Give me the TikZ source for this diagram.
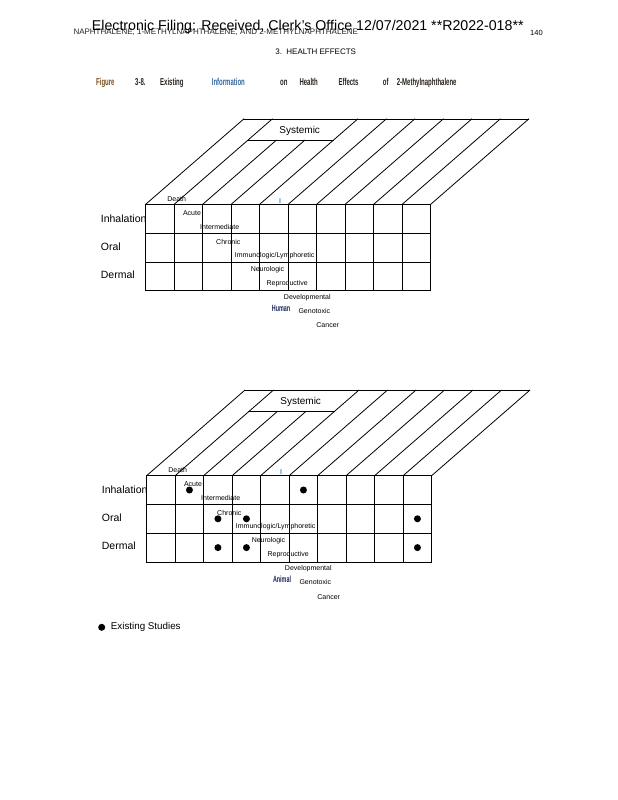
\documentclass[tikz,border=0pt]{standalone}
\usepackage{graphicx}
\usepackage{fontspec}
\setmainfont{Liberation Sans}
\definecolor{capbrown}{RGB}{120,80,30}
\definecolor{capblue}{RGB}{50,105,160}
\definecolor{capdark}{RGB}{40,35,30}
\definecolor{navy}{RGB}{30,40,90}
\definecolor{markblue}{RGB}{70,140,210}
\newcommand\drawpanel[3]{%
  \begin{scope}[shift={(#2)}]
    \foreach \k in {0,...,10} {
      \coordinate (#1f\k) at ({145.7+28.5*\k},204.3);
      \coordinate (#1d\k) at ({145.7+28.5*\k},290.7);
      \coordinate (#1b\k) at ({243.7+28.5*\k},119);
      \coordinate (#1m\k) at ({219.2+28.5*\k},140.3);
    }
    \foreach \j in {1,2} {
      \coordinate (#1l\j) at (145.7,{204.3+28.8*\j});
      \coordinate (#1r\j) at (430.7,{204.3+28.8*\j});
    }
    \draw[gridline] (#1f0) rectangle (#1d10);
    \foreach \k in {1,...,9} \draw[gridline] (#1f\k) -- (#1d\k);
    \foreach \j in {1,2} \draw[gridline] (#1l\j) -- (#1r\j);
    \foreach \k in {0,1,4,5,6,7,8,9,10} \draw[gridline] (#1f\k) -- (#1b\k);
    \foreach \k in {2,3} \draw[gridline] (#1f\k) -- (#1m\k);
    \draw[gridline] (#1b0) -- (#1b10);
    \draw[gridline] (#1m1) -- (#1m4);
    \node[font=\fontsize{10}{12}\selectfont, inner sep=0pt] (#1sys) at (299.7,130.5) {Systemic};
    \node[rowlab] (#1inh) at (100.7,218.3) {Inhalation};
    \node[rowlab] (#1ora) at (100.7,246.7) {Oral};
    \node[rowlab] (#1der) at (100.7,274.3) {Dermal};
    \node[lab] (#1death) at (176.7,199) {Death};
    \node[lab] (#1acute) at (192,212.7) {Acute};
    \node[lab] (#1inter) at (219.7,226.7) {Intermediate};
    \node[lab] (#1chron) at (228.3,241.7) {Chronic};
    \node[lab] (#1immu) at (274.7,255.7) {Immunologic/Lymphoretic};
    \node[lab] (#1neuro) at (267.5,269.7) {Neurologic};
    \node[lab] (#1repro) at (287.2,283.7) {Reproductive};
    \node[lab] (#1devel) at (307.3,297.3) {Developmental};
    \node[lab] (#1geno) at (314.3,310.7) {Genotoxic};
    \node[lab] (#1canc) at (327.7,325.3) {Cancer};
    \node[font=\fontsize{7}{8}\selectfont\bfseries, text=markblue, inner sep=0pt] (#1mark) at (280,200.7) {I};
    \node[font=\fontsize{9}{10}\selectfont\bfseries, text=navy, inner sep=0pt] (#1who) at (281,308.3) {\scalebox{0.6}[1]{#3}};
  \end{scope}}
\begin{document}
\begin{tikzpicture}[x=1pt,y=-1pt,
  gridline/.style={line width=0.8pt, line cap=rect},
  lab/.style={font=\fontsize{7}{8}\selectfont, inner sep=0pt},
  rowlab/.style={font=\fontsize{10.5}{12}\selectfont, anchor=west, inner sep=0pt},
  capword/.style={font=\fontsize{10}{12}\selectfont\bfseries, anchor=base west, inner sep=0pt},
  dot/.style={circle, fill=black, inner sep=0pt, minimum size=7pt}]
\useasboundingbox[fill=white] (0,0) rectangle (618,800);
% header
\node[font=\fontsize{8}{9}\selectfont, text=black!85, anchor=west, inner sep=0pt] (hdrsmall) at (73.3,32.7) {NAPHTHALENE, 1-METHYLNAPHTHALENE, AND 2-METHYLNAPHTHALENE};
\node[font=\fontsize{14.2}{16}\selectfont, anchor=west, inner sep=0pt] (hdrbig) at (91.7,27.3) {Electronic Filing: Received, Clerk's Office 12/07/2021 **R2022-018**};
\node[font=\fontsize{7.5}{9}\selectfont, anchor=west, inner sep=0pt] (pagenum) at (530,32.7) {140};
\node[font=\fontsize{8}{9}\selectfont, inner sep=0pt] (section) at (315.7,51.7) {3.\ \ HEALTH EFFECTS};
% caption
\node[capword, text=capbrown] (c1) at (96,85.5) {\scalebox{0.6}[1]{Figure}};
\node[capword, text=capdark] (c2) at (135,85.5) {\scalebox{0.6}[1]{3-8.}};
\node[capword, text=capdark] (c3) at (160,85.5) {\scalebox{0.6}[1]{Existing}};
\node[capword, text=capblue] (c4) at (211.7,85.5) {\scalebox{0.6}[1]{Information}};
\node[capword, text=capdark] (c5) at (280,85.5) {\scalebox{0.6}[1]{on}};
\node[capword, text=capdark] (c6) at (299.3,85.5) {\scalebox{0.6}[1]{Health}};
\node[capword, text=capdark] (c7) at (338.3,85.5) {\scalebox{0.6}[1]{Effects}};
\node[capword, text=capdark] (c8) at (382.7,85.5) {\scalebox{0.6}[1]{of}};
\node[capword, text=capdark] (c9) at (396.7,85.5) {\scalebox{0.6}[1]{2-Methylnaphthalene}};
% panels
\drawpanel{h}{0,0}{Human}
\drawpanel{a}{1,271.3}{Animal}
\begin{scope}[shift={(1,271.3)}]
  \foreach \c/\r [count=\i] in {1/0,5/0,2/1,3/1,9/1,2/2,3/2,9/2}
    \node[dot] (dot\i) at ({145.7+28.5*(\c+0.5)},{204.3+28.8*(\r+0.5)}) {};
\end{scope}
% legend
\node[dot] (legdot) at (101.7,627.3) {};
\node[font=\fontsize{9.8}{11}\selectfont, anchor=west, inner sep=0pt] (legtext) at (110.7,627.3) {Existing Studies};
\end{tikzpicture}
\end{document}
